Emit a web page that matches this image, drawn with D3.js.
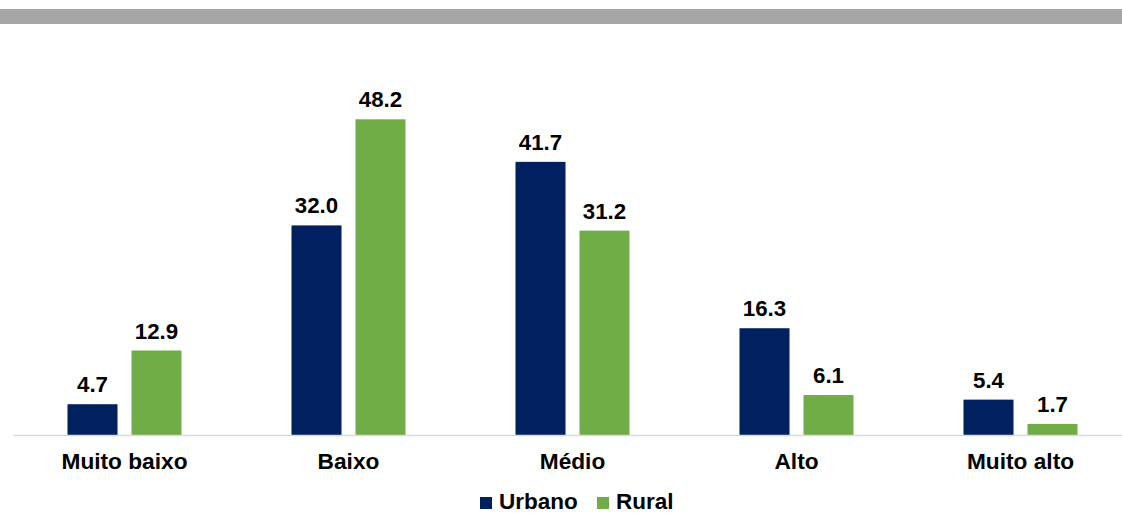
<!DOCTYPE html>
<html>
<head>
<meta charset="utf-8">
<script src="https://cdn.jsdelivr.net/npm/d3@7"></script>
<style>
  html, body { margin: 0; padding: 0; background: #ffffff; }
  svg { display: block; font-family: "Liberation Sans", Arial, sans-serif; }
</style>
</head>
<body>
<svg id="chart" width="1122" height="513"></svg>
<script>
// Categories and series values
const categories = ["Muito baixo", "Baixo", "Médio", "Alto", "Muito alto"];
const seriesNames = ["Urbano", "Rural"];
const urbano = [4.7, 32.0, 41.7, 16.3, 5.4];
const rural = [12.9, 48.2, 31.2, 6.1, 1.7];
const seriesColors = ["#002060", "#70ad47"];

const svg = d3.select("#chart");
const W = 1122;

// Grey header strip
svg.append("rect")
  .attr("x", 0).attr("y", 9)
  .attr("width", W).attr("height", 15)
  .attr("fill", "#a6a6a6");

const baseY = 435;

const x = d3.scaleBand()
  .domain(categories)
  .range([12.5, 1132.5])
  .padding(0);

const xs = d3.scaleBand()
  .domain(seriesNames)
  .range([0, 114])
  .paddingInner(0.21875)
  .paddingOuter(0);

const y = d3.scaleLinear()
  .domain([0, 50])
  .range([baseY, baseY - 50 * 6.55]);

const data = categories.map((c, i) => ({
  category: c,
  values: [
    { series: "Urbano", value: urbano[i], color: seriesColors[0] },
    { series: "Rural", value: rural[i], color: seriesColors[1] }
  ]
}));

const groups = svg.append("g").selectAll("g")
  .data(data)
  .join("g")
  .attr("transform", d => `translate(${x(d.category) + x.bandwidth() / 2 - 57},0)`);

groups.selectAll("rect")
  .data(d => d.values)
  .join("rect")
  .attr("x", d => xs(d.series))
  .attr("y", d => y(d.value))
  .attr("width", xs.bandwidth())
  .attr("height", d => y(0) - y(d.value))
  .attr("fill", d => d.color);

groups.selectAll("text")
  .data(d => d.values)
  .join("text")
  .attr("x", d => xs(d.series) + xs.bandwidth() / 2)
  .attr("y", d => y(d.value) - 12)
  .attr("text-anchor", "middle")
  .attr("font-size", 22.3)
  .attr("font-weight", "bold")
  .attr("fill", "#000")
  .text(d => d.value.toFixed(1));

// Baseline
svg.append("line")
  .attr("x1", 13).attr("x2", W)
  .attr("y1", baseY + 0.5).attr("y2", baseY + 0.5)
  .attr("stroke", "#d9d9d9")
  .attr("stroke-width", 1.5);

// Category axis labels
const xAxis = d3.axisBottom(x).tickSize(0).tickPadding(0);
const axisG = svg.append("g")
  .attr("transform", `translate(0,${baseY})`)
  .call(xAxis);
axisG.select(".domain").remove();
axisG.selectAll("text")
  .attr("y", 34)
  .attr("dy", 0)
  .attr("font-size", 22.7)
  .attr("font-weight", "bold")
  .attr("font-family", "'Liberation Sans', Arial, sans-serif")
  .attr("fill", "#000");

// Legend
const legendItems = [
  { name: seriesNames[0], color: seriesColors[0], x: 480 },
  { name: seriesNames[1], color: seriesColors[1], x: 597 }
];
const legend = svg.append("g");
legendItems.forEach(item => {
  legend.append("rect")
    .attr("x", item.x).attr("y", 497)
    .attr("width", 12).attr("height", 12)
    .attr("fill", item.color);
  legend.append("text")
    .attr("x", item.x + 19).attr("y", 509)
    .attr("font-size", 22.5)
    .attr("font-weight", "bold")
    .attr("fill", "#000")
    .text(item.name);
});
</script>
</body>
</html>
